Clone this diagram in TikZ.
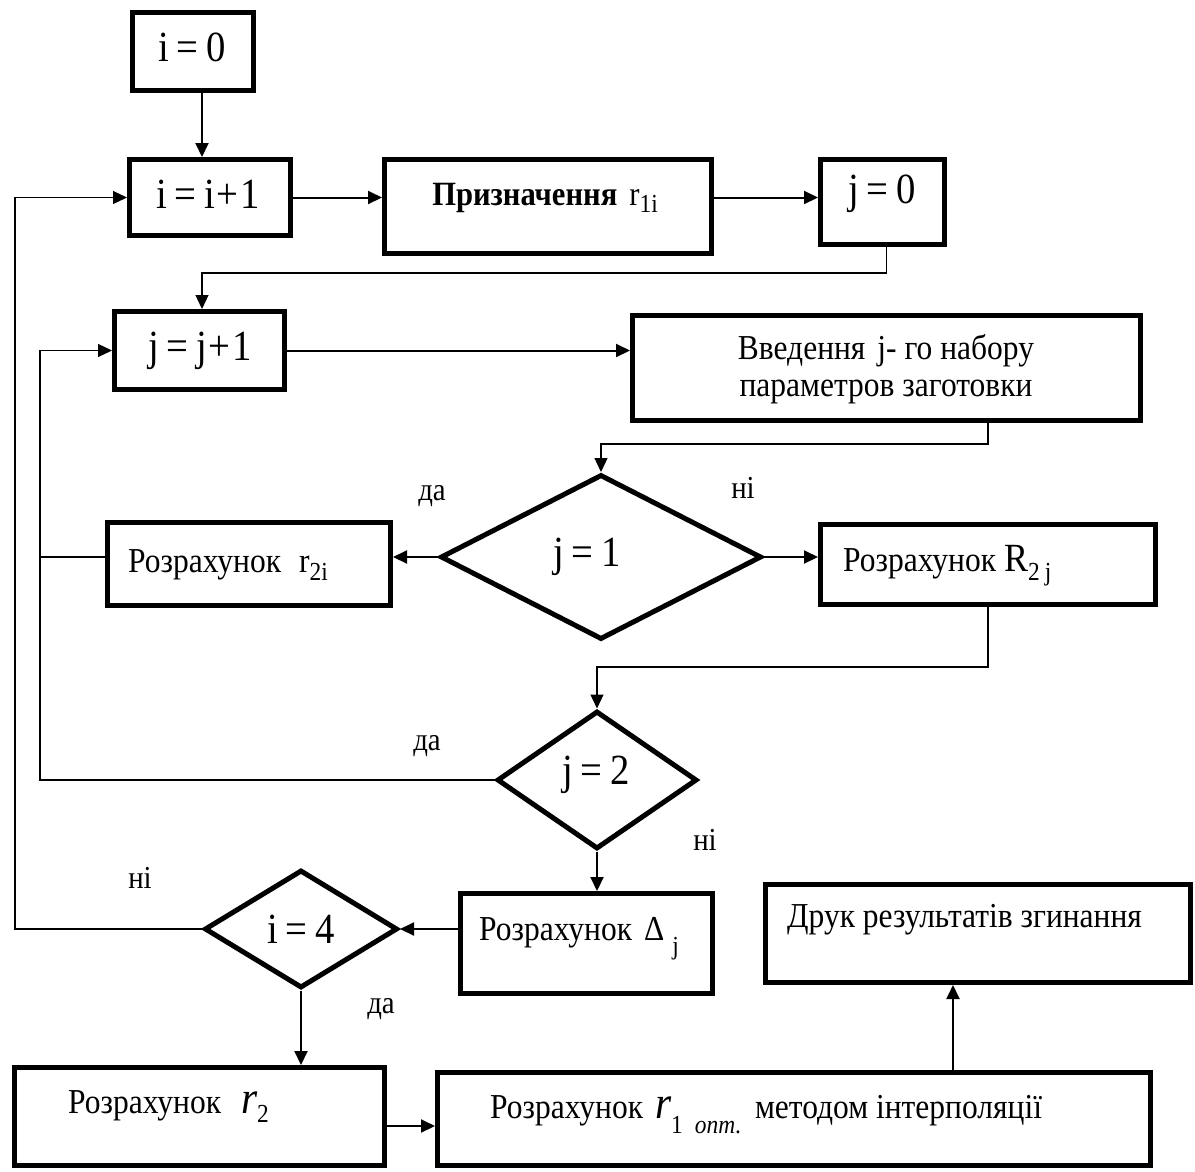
\documentclass[tikz,border=0pt]{standalone}
\usepackage{fontspec}
\setmainfont[FakeStretch=0.9]{Liberation Serif}
\usetikzlibrary{arrows.meta,shapes.geometric,calc}
\newcommand\fsz[1]{\fontsize{#1}{#1}\selectfont}
\newcommand\lsub[3][24]{\raisebox{-#2}{\fontsize{#1}{#1}\selectfont #3}}
\newcommand\eqs{\hspace{8pt}}
\begin{document}
\begin{tikzpicture}[x=1pt,y=-1pt,
  box/.style={draw,line width=5pt,rectangle,inner sep=0pt},
  dia/.style={draw,line width=5pt,diamond,inner sep=0pt},
  eq/.style={inner sep=0pt,font=\fsz{43}},
  txt/.style={inner sep=0pt,font=\fsz{35}},
  lab/.style={inner sep=0pt,font=\fsz{32}},
  conn/.style={line width=2pt},
  thinc/.style={line width=1.2pt},
  arrowtip/.style={-{Triangle[length=14pt,width=13pt]}}]
\useasboundingbox (0,0) rectangle (1195,1171);

% boxes
\node[box,minimum width=121pt,minimum height=78pt] (i0) at (193,51.5) {};
\node[box,minimum width=161pt,minimum height=76pt] (ii1) at (210,197.5) {};
\node[box,minimum width=327pt,minimum height=94pt] (prz) at (548,206.5) {};
\node[box,minimum width=124pt,minimum height=85pt] (j0) at (882.5,202) {};
\node[box,minimum width=170pt,minimum height=78pt] (jj1) at (199.5,350.5) {};
\node[box,minimum width=508pt,minimum height=105pt] (vved) at (886.5,368) {};
\node[box,minimum width=283pt,minimum height=83pt] (r2i) at (249,564) {};
\node[box,minimum width=335pt,minimum height=80pt] (R2j) at (988,564.5) {};
\node[box,minimum width=252pt,minimum height=100pt] (dj) at (586.5,943.5) {};
\node[box,minimum width=425pt,minimum height=98pt] (druk) at (978,933.5) {};
\node[box,minimum width=370pt,minimum height=98pt] (r2) at (199.5,1116.5) {};
\node[box,minimum width=713pt,minimum height=93pt] (ropt) at (794,1119) {};

% diamonds
\node[dia,minimum width=321pt,minimum height=165pt] (j1) at (601,557) {};
\node[dia,minimum width=200pt,minimum height=138pt] (j2) at (597,780) {};
\node[dia,minimum width=193pt,minimum height=118pt] (i4) at (301,929) {};

% texts
\node[eq] (i0t) at (192,47) {i\eqs=\eqs0};
\node[eq] (ii1t) at (208,194) {i\eqs=\eqs i\hspace{1pt}+\hspace{2pt}1};
\node[inner sep=0pt,font=\fsz{34}] (przt) at (545,198) {\textbf{Призначення}\hspace{12pt}r\lsub[26]{7pt}{1i}};
\node[eq] (j0t) at (882,194) {j\eqs=\eqs0};
\node[eq] (jj1t) at (200,351) {j\eqs=\eqs j\hspace{1pt}+\hspace{2pt}1};
\node[txt,align=center,font=\fontsize{35}{37}\selectfont] (vvedt) at (886,369) {Введення\hspace{12pt}j- го набору\\параметров заготовки};
\node[eq] (j1t) at (587,557) {j\eqs=\eqs1};
\node[txt,anchor=base west] (r2it) at (128,572) {Розрахунок\hspace{18pt}r\lsub[26]{8pt}{2i}};
\node[txt,anchor=base west] (R2jt) at (843,571) {Розрахунок\hspace{8pt}{\fsz{40}R}\lsub[26]{9pt}{2\hspace{5pt}j}};
\node[eq] (j2t) at (596,775) {j\eqs=\eqs2};
\node[txt,anchor=base west] (djt) at (479,940) {Розрахунок\hspace{12pt}Δ\hspace{8pt}\lsub[26]{14pt}{j}};
\node[eq] (i4t) at (301,929) {i\eqs=\eqs4};
\node[txt,anchor=base west] (drukt) at (787,927) {Друк результатів згинання};
\node[txt,anchor=base west] (r2t) at (68,1113) {Розрахунок\hspace{20pt}{\fsz{46}\itshape r}\lsub[26]{9pt}{2}};
\node[txt,anchor=base west] (roptt) at (490,1118) {Розрахунок\hspace{12pt}{\fsz{46}\itshape r}\lsub[26]{15pt}{1\hspace{12pt}\itshape опт\upshape.}\hspace{14pt}методом інтерполяції};

% labels
\node[lab,anchor=base] (l1) at (432,500) {да};
\node[lab,anchor=base] (l2) at (743,498) {ні};
\node[lab,anchor=base] (l3) at (427,750) {да};
\node[lab,anchor=base] (l4) at (705,850) {ні};
\node[lab,anchor=base] (l5) at (140,888) {ні};
\node[lab,anchor=base] (l6) at (381,1013) {да};

% helper coordinates
\coordinate (lx) at (40,0);
\coordinate (lx2) at (15,0);
\coordinate (ax) at (202,0);
\coordinate (ry) at (0,1126);
\coordinate (dx) at (953,0);
\coordinate (y1) at (0,273);
\coordinate (y2) at (0,444);
\coordinate (y3) at (0,667);

% connectors
\draw[conn,arrowtip] (i0.south -| ax) -- (ii1.north -| ax);
\draw[conn,arrowtip] (ii1.east) -- (ii1.east -| prz.west);
\draw[conn,arrowtip] (ii1.east -| prz.east) -- (ii1.east -| j0.west);
\draw[thinc,arrowtip] ($(j0.south)+(4,0)$) |- (y1 -| ax) -- (jj1.north -| ax);
\draw[conn,arrowtip] (jj1.east) -- (jj1.east -| vved.west);
\draw[thinc,arrowtip] (vved.south -| R2j.south) |- (y2 -| j1.north) -- (j1.north);
\draw[conn,arrowtip] (j1.west) -- (j1.west -| r2i.east);
\draw[conn,arrowtip] (j1.east) -- (j1.east -| R2j.west);
\draw[thinc] (r2i.west |- j1.west) -- (lx |- j1.west);
\draw[thinc,arrowtip] (R2j.south) |- (y3 -| j2.north) -- (j2.north);
\draw[thinc,arrowtip] (j2.west) -- (j2.west -| lx) |- (jj1.west);
\draw[conn,arrowtip] (j2.south) -- (j2.south |- dj.north);
\draw[conn,arrowtip] (dj.west |- i4.east) -- (i4.east);
\draw[thinc,arrowtip] (i4.west) -- (i4.west -| lx2) |- (ii1.west);
\draw[conn,arrowtip] (i4.south) -- (i4.south |- r2.north);
\draw[conn,arrowtip] (r2.east |- ry) -- (ropt.west |- ry);
\draw[conn,arrowtip] (ropt.north -| dx) -- (druk.south -| dx);
\end{tikzpicture}
\end{document}
